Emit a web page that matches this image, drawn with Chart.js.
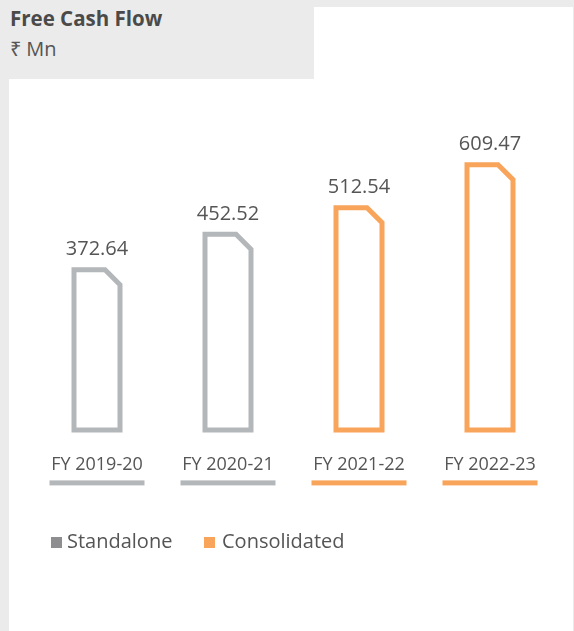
<!DOCTYPE html>
<html><head><meta charset="utf-8">
<script src="https://cdn.jsdelivr.net/npm/chart.js@4"></script>
<style>
html,body{margin:0;padding:0;}
body{width:574px;height:631px;background:#ebebeb;position:relative;overflow:hidden;font-family:"Open Sans",sans-serif;}
#panelTop{position:absolute;left:314px;top:7px;width:259px;height:72px;background:#fff;}
#panel{position:absolute;left:9px;top:79px;width:564px;height:552px;background:#fff;}
.t{position:absolute;left:10px;font-size:20px;line-height:20px;white-space:nowrap;}
#title{top:8px;font-weight:700;color:#4a4a4a;font-size:20.5px;}
#sub{top:39px;color:#555;}
.lg{position:absolute;top:531px;font-size:20px;line-height:20px;color:#555;white-space:nowrap;}
.sw{position:absolute;top:537px;width:11px;height:11px;}
</style></head>
<body>
<div id="panelTop"></div>
<div id="panel"><canvas id="c" width="564" height="552"></canvas></div>
<div class="t" id="title">Free Cash Flow</div>
<div class="t" id="sub">₹ Mn</div>
<div class="sw" style="left:51px;background:#8e8e91"></div>
<div class="lg" style="left:67px">Standalone</div>
<div class="sw" style="left:204px;background:#f9a45b"></div>
<div class="lg" style="left:222px">Consolidated</div>
<script>
const categories = ['FY 2019-20', 'FY 2020-21', 'FY 2021-22', 'FY 2022-23'];
const standalone = [372.64, 452.52, null, null];
const consolidated = [null, null, 512.54, 609.47];
const seriesNames = ['Standalone', 'Consolidated'];
const seriesColors = ['#b4b7b9', '#f9a45b'];

const outline = {
  id: 'outline',
  afterDatasetsDraw(chart) {
    const ctx = chart.ctx;
    chart.data.datasets.forEach((ds, di) => {
      const meta = chart.getDatasetMeta(di);
      meta.data.forEach((bar, i) => {
        const v = ds.data[i];
        if (v == null) return;
        const p = bar.getProps(['x', 'y', 'base', 'width'], true);
        const lw = 5, h = lw / 2, c = 15;
        const L = p.x - p.width / 2 + h, R = p.x + p.width / 2 - h, T = p.y + h, B = p.base - h;
        ctx.save();
        ctx.beginPath();
        ctx.moveTo(L, B); ctx.lineTo(L, T); ctx.lineTo(R - c, T); ctx.lineTo(R, T + c); ctx.lineTo(R, B);
        ctx.closePath();
        ctx.lineWidth = lw; ctx.lineJoin = 'miter'; ctx.strokeStyle = ds.borderColor; ctx.stroke();
        ctx.fillStyle = '#555'; ctx.font = '20px "Open Sans"'; ctx.textAlign = 'center'; ctx.textBaseline = 'alphabetic';
        ctx.fillText(v.toFixed(2), p.x, p.y - 12);
        ctx.restore();
      });
    });
  }
};

const underline = {
  id: 'underline',
  afterDraw(chart) {
    const ctx = chart.ctx, xs = chart.scales.x, y0 = chart.chartArea.bottom + 48;
    categories.forEach((c, i) => {
      const di = chart.data.datasets.findIndex(d => d.data[i] != null);
      const x = xs.getPixelForValue(i);
      ctx.fillStyle = chart.data.datasets[di].borderColor;
      ctx.fillRect(x - 47.5, y0, 95, 5);
    });
  }
};

new Chart(document.getElementById('c'), {
  type: 'bar',
  data: {
    labels: categories,
    datasets: [
      { label: seriesNames[0], data: standalone, backgroundColor: 'rgba(0,0,0,0)', borderColor: seriesColors[0], borderWidth: 0, barThickness: 51 },
      { label: seriesNames[1], data: consolidated, backgroundColor: 'rgba(0,0,0,0)', borderColor: seriesColors[1], borderWidth: 0, barThickness: 51 }
    ]
  },
  options: {
    responsive: false,
    animation: false,
    layout: { padding: { left: 22.5, right: 17.5, top: 43, bottom: 133 } },
    plugins: { legend: { display: false }, tooltip: { enabled: false } },
    scales: {
      x: {
        stacked: true,
        grid: { display: false, drawTicks: false },
        border: { display: false },
        ticks: { color: '#555', font: { family: 'Open Sans', size: 18 }, padding: 22, maxRotation: 0 }
      },
      y: { stacked: true, display: false, min: 0, max: 700 }
    }
  },
  plugins: [outline, underline]
});
</script>
</body></html>
